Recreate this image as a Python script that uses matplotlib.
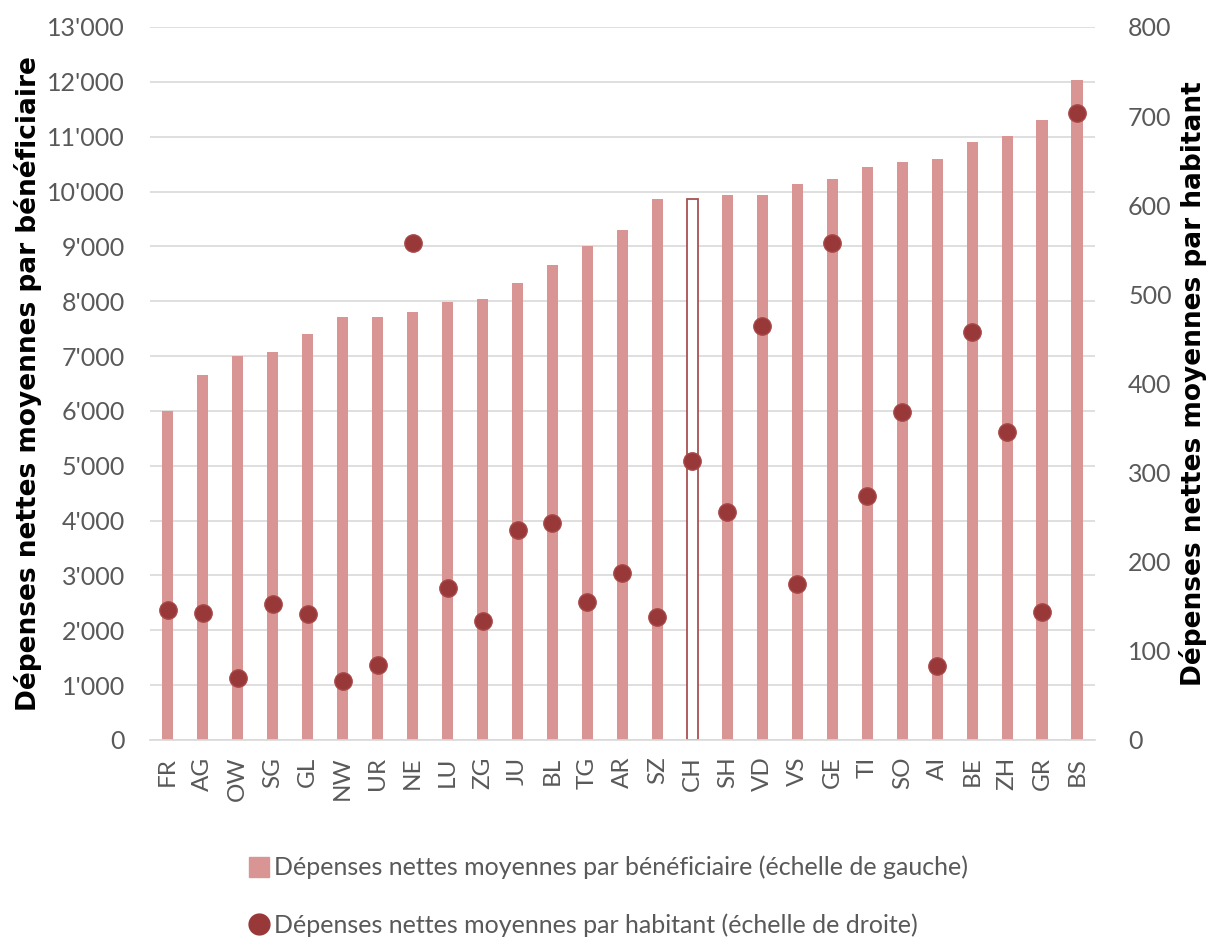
import matplotlib
matplotlib.use("Agg")
import matplotlib.pyplot as plt
from matplotlib.lines import Line2D
import numpy as np

cantons = ["FR", "AG", "OW", "SG", "GL", "NW", "UR", "NE", "LU", "ZG", "JU", "BL", "TG", "AR",
           "SZ", "CH", "SH", "VD", "VS", "GE", "TI", "SO", "AI", "BE", "ZH", "GR", "BS"]
par_beneficiaire = [6000, 6650, 7000, 7080, 7400, 7720, 7720, 7800, 7990, 8040, 8330, 8660, 9000, 9300,
                    9860, 9860, 9930, 9930, 10130, 10220, 10440, 10530, 10600, 10910, 11020, 11300, 12040]
par_habitant = [146, 142, 70, 153, 141, 66, 84, 558, 171, 134, 236, 243, 155, 187,
                138, 313, 256, 465, 175, 558, 274, 368, 83, 458, 346, 144, 703]
left_ticks = [0, 1000, 2000, 3000, 4000, 5000, 6000, 7000, 8000, 9000, 10000, 11000, 12000, 13000]
right_ticks = [0, 100, 200, 300, 400, 500, 600, 700, 800]

bar_color = "#D99594"
dot_color = "#983838"
tick_color = "#595959"
font = "Lato"

fig = plt.figure(figsize=(12.11, 9.47), dpi=100)
ax = fig.add_axes([0.124, 0.2186, 0.780, 0.7529])
ax2 = ax.twinx()

x = np.arange(len(cantons))
ch = cantons.index("CH")
fc = [bar_color] * len(cantons)
ec = [bar_color] * len(cantons)
fc[ch] = "white"
ec[ch] = "#A85050"
lw = [0] * len(cantons)
lw[ch] = 1.3
ax.bar(x, par_beneficiaire, width=0.33, color=fc, edgecolor=ec, linewidth=lw, zorder=2)

ax.set_xlim(-0.5, len(cantons) - 0.5)
ax.set_ylim(0, 13000)
ax.set_yticks(left_ticks)
ax.set_yticklabels([f"{v:,}".replace(",", "'") for v in left_ticks], fontfamily=font, fontsize=18, color=tick_color)
ax.set_xticks(x)
ax.set_xticklabels(cantons, rotation=90, fontfamily=font, fontsize=17.5, color=tick_color)
ax.grid(axis="y", color="#D9D9D9", linewidth=1.2, zorder=0)
ax.set_axisbelow(True)
ax.tick_params(axis="y", length=0, pad=18)
ax.tick_params(axis="x", length=0, pad=12)
for s in ["top", "left", "right"]:
    ax.spines[s].set_visible(False)
ax.spines["bottom"].set_color("#D9D9D9")
ax.spines["bottom"].set_linewidth(1.2)

ax2.plot(x, par_habitant, linestyle="none", marker="o", markersize=12.5,
         markerfacecolor=dot_color, markeredgecolor="#A84848", markeredgewidth=1, zorder=3)
ax2.set_ylim(0, 800)
ax2.set_yticks(right_ticks)
ax2.set_yticklabels([str(v) for v in right_ticks], fontfamily=font, fontsize=18, color=tick_color)
ax2.tick_params(axis="y", length=0, pad=24)
for s in ["top", "left", "right", "bottom"]:
    ax2.spines[s].set_visible(False)

ax.set_ylabel("Dépenses nettes moyennes par bénéficiaire", fontfamily="DejaVu Sans",
              fontweight="bold", fontsize=19, color="black")
ax.yaxis.set_label_coords(-0.115, 0.5)
ax2.set_ylabel("Dépenses nettes moyennes par habitant", fontfamily="DejaVu Sans",
               fontweight="bold", fontsize=19, color="black", rotation=90)
ax2.yaxis.set_label_coords(1.089, 0.5)

handles = [Line2D([0], [0], marker="s", linestyle="none", markersize=15, markerfacecolor=bar_color, markeredgecolor=bar_color),
           Line2D([0], [0], marker="o", linestyle="none", markersize=15, markerfacecolor=dot_color, markeredgecolor=dot_color)]
labels = ["Dépenses nettes moyennes par bénéficiaire (échelle de gauche)",
          "Dépenses nettes moyennes par habitant (échelle de droite)"]
leg = fig.legend(handles, labels, loc="upper left", bbox_to_anchor=(0.185, 0.12), frameon=False,
                 prop={"family": font, "size": 18}, labelspacing=1.35, handletextpad=0.1, handlelength=1.0)
for t in leg.get_texts():
    t.set_color(tick_color)

fig.savefig("out.png", dpi=100)
